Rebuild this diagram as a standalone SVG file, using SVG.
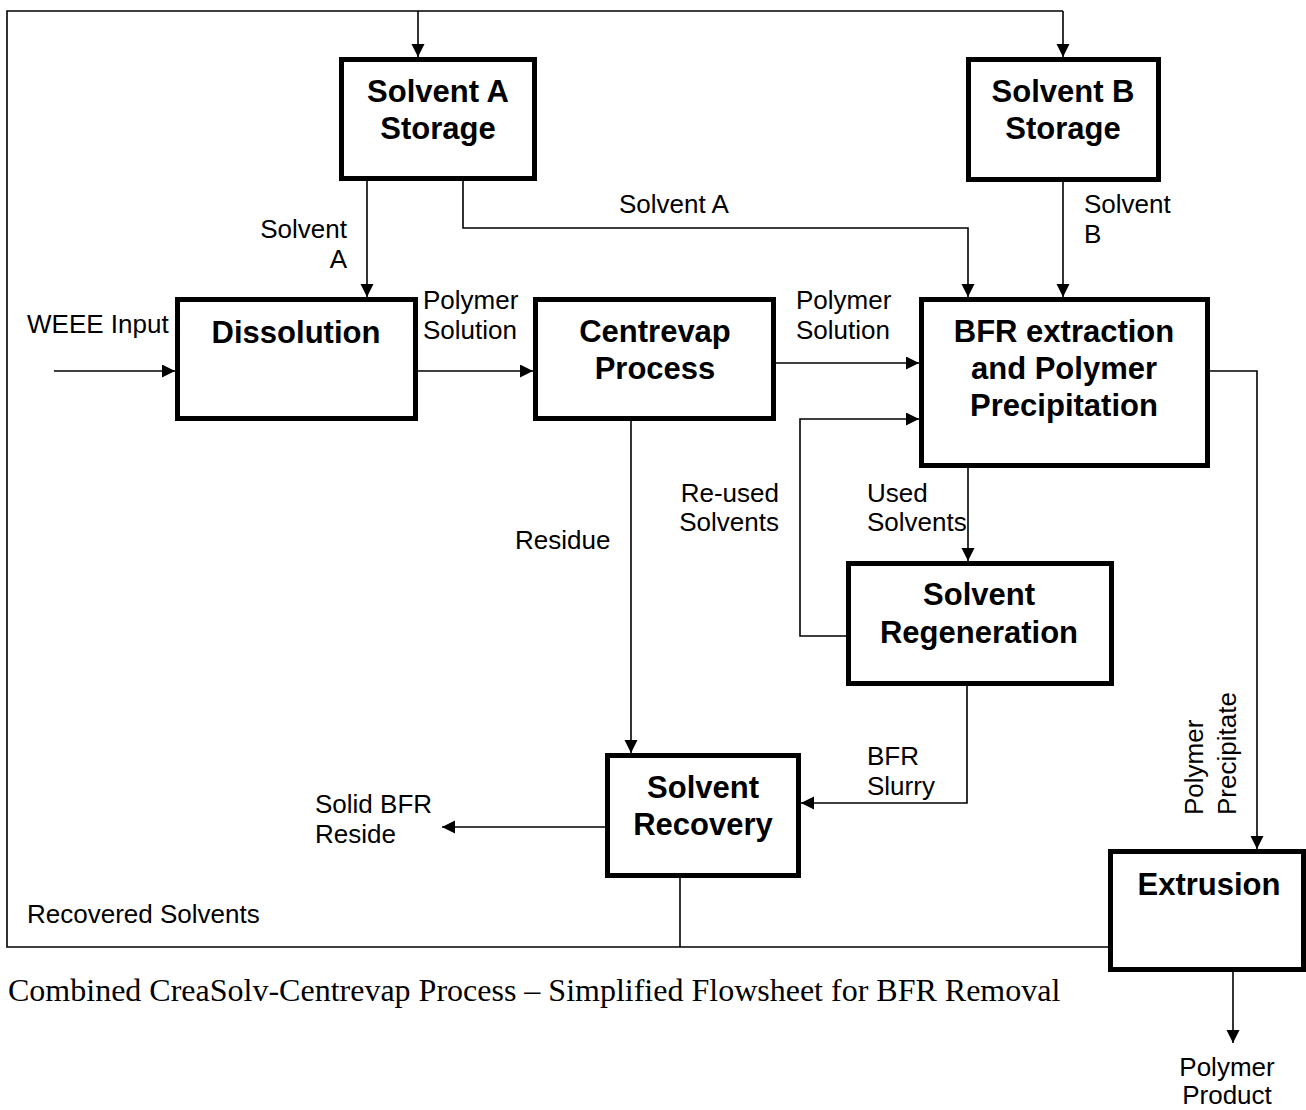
<svg xmlns="http://www.w3.org/2000/svg" width="1306" height="1110" viewBox="0 0 1306 1110">
<defs>
<marker id="arr" markerUnits="userSpaceOnUse" markerWidth="14" markerHeight="14" refX="13" refY="6.5" orient="auto">
<path d="M0,0 L13,6.5 L0,13 z" fill="#000"/>
</marker>
<style>
.box{fill:#fff;stroke:#000;stroke-width:5}
.t{font-family:"Liberation Sans",Arial,sans-serif;font-size:31px;font-weight:bold;text-anchor:middle;fill:#000}
.l{font-family:"Liberation Sans",Arial,sans-serif;font-size:26px;fill:#000}
.c{fill:none;stroke:#000;stroke-width:1.6}
.a{marker-end:url(#arr)}
.cap{font-family:"Liberation Serif","Times New Roman",serif;font-size:32px;fill:#000}
</style>
</defs>
<rect width="1306" height="1110" fill="#fff"/>
<g id="connectors">
<polyline class="c" points="1108,947 7,947 7,11 1063,11"/>
<line class="c a" x1="1063" y1="11" x2="1063" y2="57"/>
<line class="c a" x1="418" y1="11" x2="418" y2="57"/>
<line class="c" x1="680" y1="878" x2="680" y2="947"/>
<line class="c a" x1="367" y1="181" x2="367" y2="297"/>
<polyline class="c a" points="463,181 463,228 968,228 968,297"/>
<line class="c a" x1="1063" y1="182" x2="1063" y2="297"/>
<line class="c a" x1="54" y1="371" x2="175" y2="371"/>
<line class="c a" x1="418" y1="371" x2="533" y2="371"/>
<line class="c a" x1="776" y1="363" x2="919" y2="363"/>
<polyline class="c a" points="846,636 800,636 800,419 919,419"/>
<line class="c a" x1="968" y1="468" x2="968" y2="561"/>
<polyline class="c a" points="1210,371 1257,371 1257,849"/>
<line class="c a" x1="631" y1="421" x2="631" y2="753"/>
<polyline class="c a" points="967,686 967,803 801,803"/>
<line class="c a" x1="605" y1="827" x2="442" y2="827"/>
<line class="c a" x1="1233" y1="972" x2="1233" y2="1043"/>
</g>
<g id="solventA">
<rect class="box" x="341.5" y="59.5" width="193" height="119"/>
<text class="t" x="438" y="102">Solvent A</text>
<text class="t" x="438" y="139">Storage</text>
</g>
<g id="solventB">
<rect class="box" x="968.5" y="59.5" width="190" height="120"/>
<text class="t" x="1063" y="102">Solvent B</text>
<text class="t" x="1063" y="139">Storage</text>
</g>
<g id="dissolution">
<rect class="box" x="177.5" y="299.5" width="238" height="119"/>
<text class="t" x="296" y="343">Dissolution</text>
</g>
<g id="centrevap">
<rect class="box" x="535.5" y="299.5" width="238" height="119"/>
<text class="t" x="655" y="342">Centrevap</text>
<text class="t" x="655" y="379">Process</text>
</g>
<g id="bfr">
<rect class="box" x="921.5" y="299.5" width="286" height="166"/>
<text class="t" x="1064" y="342">BFR extraction</text>
<text class="t" x="1064" y="379">and Polymer</text>
<text class="t" x="1064" y="416">Precipitation</text>
</g>
<g id="regeneration">
<rect class="box" x="848.5" y="563.5" width="263" height="120"/>
<text class="t" x="979" y="605">Solvent</text>
<text class="t" x="979" y="643">Regeneration</text>
</g>
<g id="recovery">
<rect class="box" x="607.5" y="755.5" width="191" height="120"/>
<text class="t" x="703" y="798">Solvent</text>
<text class="t" x="703" y="835">Recovery</text>
</g>
<g id="extrusion">
<rect class="box" x="1110.5" y="851.5" width="193" height="118"/>
<text class="t" x="1209" y="895">Extrusion</text>
</g>
<g id="labels">
<text class="l" x="347" y="238" text-anchor="end">Solvent</text>
<text class="l" x="347" y="268" text-anchor="end">A</text>
<text class="l" x="619" y="213">Solvent A</text>
<text class="l" x="1084" y="213">Solvent</text>
<text class="l" x="1084" y="243">B</text>
<text class="l" x="27" y="333">WEEE Input</text>
<text class="l" x="423" y="309">Polymer</text>
<text class="l" x="423" y="339">Solution</text>
<text class="l" x="796" y="309">Polymer</text>
<text class="l" x="796" y="339">Solution</text>
<text class="l" x="779" y="502" text-anchor="end">Re-used</text>
<text class="l" x="779" y="531" text-anchor="end">Solvents</text>
<text class="l" x="867" y="502">Used</text>
<text class="l" x="867" y="531">Solvents</text>
<text class="l" x="515" y="549">Residue</text>
<text class="l" x="867" y="765">BFR</text>
<text class="l" x="867" y="795">Slurry</text>
<text class="l" x="315" y="813">Solid BFR</text>
<text class="l" x="315" y="843">Reside</text>
<text class="l" x="27" y="923">Recovered Solvents</text>
<text class="l" x="1203" y="815" transform="rotate(-90 1203 815)">Polymer</text>
<text class="l" x="1236" y="815" transform="rotate(-90 1236 815)">Precipitate</text>
<text class="l" x="1227" y="1076" text-anchor="middle">Polymer</text>
<text class="l" x="1227" y="1104" text-anchor="middle">Product</text>
</g>
<text class="cap" x="8" y="1001">Combined CreaSolv-Centrevap Process – Simplified Flowsheet for BFR Removal</text>
</svg>
